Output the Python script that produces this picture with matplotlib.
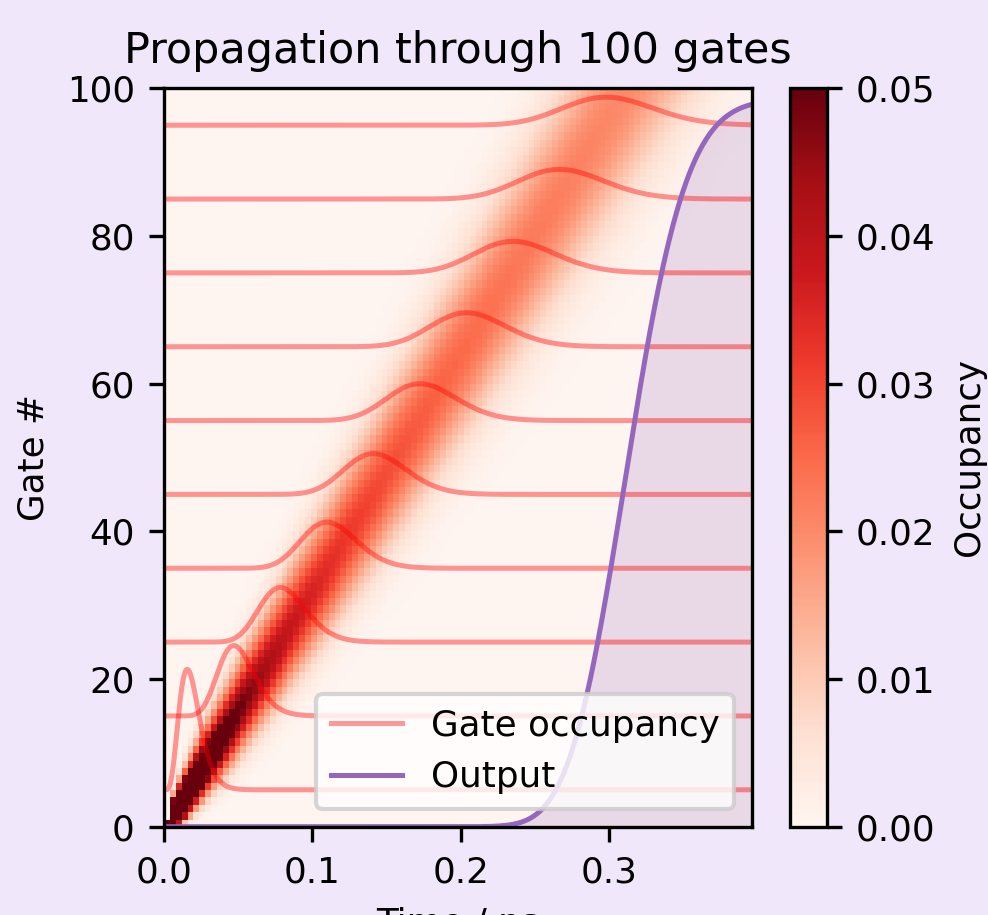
import math
import numpy as np
import matplotlib
matplotlib.use("Agg")
import matplotlib.pyplot as plt

# values
n_gates = 100
rate = 319.0            # hops per ns, from peak positions
t_end = 0.396           # ns, right edge of the axis
n_cols = 100            # heatmap time columns
line_gates = [5, 15, 25, 35, 45, 55, 65, 75, 85, 95]
line_scale = 93.0       # vertical scale of the occupancy traces
heat_scale = 0.5        # colour scale of the heatmap values
vmax = 0.05
out_scale = 0.985

bg = "#f0e7fa"
plt.rcParams["font.size"] = 8.6


def occupancy(n, t):
    kt = rate * np.asarray(t, dtype=float)
    with np.errstate(divide="ignore"):
        logp = n * np.log(kt) - kt - math.lgamma(n + 1)
    p = np.exp(logp)
    if n == 0:
        p = np.exp(-kt)
    return p


t_fine = np.linspace(0, t_end, 1000)
t_heat = np.linspace(0, t_end, n_cols)
heat = np.array([occupancy(n, t_heat) for n in range(n_gates)]) * heat_scale
output = 1 - sum(occupancy(n, t_fine) for n in range(n_gates))

fig = plt.figure(figsize=(988 / 300, 915 / 300), dpi=300, facecolor=bg)
ax = fig.add_axes([0.166, 0.0965, 0.595, 0.807])
cax = fig.add_axes([0.7996, 0.0965, 0.0371, 0.807])

im = ax.imshow(heat, origin="lower", aspect="auto", cmap="Reds",
               vmin=0, vmax=vmax, interpolation="nearest",
               extent=[0, t_end, 0, n_gates])

for i, g in enumerate(line_gates):
    ax.plot(t_fine, g + line_scale * occupancy(g, t_fine), color="red",
            alpha=0.4, lw=1.2, label="Gate occupancy" if i == 0 else None)

ax.plot(t_fine, n_gates * out_scale * output, color="tab:purple", lw=1.2,
        label="Output")
ax.fill_between(t_fine, 0, n_gates * out_scale * output, color="tab:purple",
                alpha=0.2, lw=0)

ax.set_xlim(0, t_end)
ax.set_ylim(0, n_gates)
ax.set_xticks([0.0, 0.1, 0.2, 0.3])
ax.set_yticks([0, 20, 40, 60, 80, 100])
ax.set_title("Propagation through 100 gates", fontsize=10.3)
ax.set_xlabel("Time / ns")
ax.set_ylabel("Gate #")
ax.legend(loc="lower right")

cb = fig.colorbar(im, cax=cax)
cb.set_label("Occupancy")

fig.savefig("out.png", dpi=300, facecolor=bg)
